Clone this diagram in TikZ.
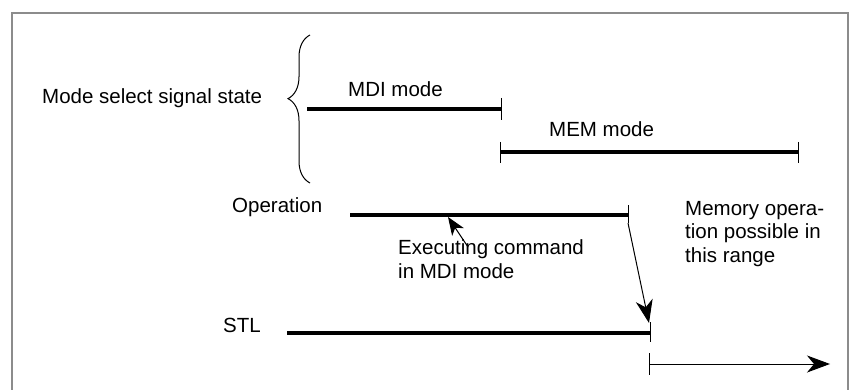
\documentclass[tikz,border=0pt]{standalone}
\usepackage{fontspec}
\setmainfont{Liberation Sans}
\usetikzlibrary{arrows.meta,decorations.pathreplacing}
\begin{document}
\begin{tikzpicture}[x=1pt,y=-1pt,
  lbl/.style={inner sep=0pt, anchor=base west, font=\fontsize{20.5}{23.5}\selectfont, align=left},
  sig/.style={line width=3.2pt},
  tickmark/.style={line width=1pt},
  conn/.style={line width=1pt, -{Stealth[length=23pt,width=17pt,inset=7pt]}},
  connsmall/.style={line width=1pt, -{Stealth[length=18pt,width=14pt,inset=5pt]}},
  frame/.style={draw=black!45, line width=1.5pt}]
\useasboundingbox (0,0) rectangle (850,390);
\draw[frame] (12,390) |- (848,13) -- (848,390);

% labels
\node[lbl] (mode) at (42,104) {Mode select signal state};
\node[lbl] (mdi) at (348,97) {MDI mode};
\node[lbl] (mem) at (549,137) {MEM mode};
\node[lbl] (op) at (232,212) {Operation};
\node[lbl] (stl) at (223,332) {STL};
\node[lbl] (exec) at (398,278) {Executing command\\in MDI mode};
\node[lbl] (memop) at (685,262) {Memory opera-\\tion possible in\\this range};

% brace
\draw[line width=1pt, decorate, decoration={brace, amplitude=22pt, aspect=0.57}] (310,183) -- (310,35);

% coordinates
\coordinate (mdiA) at (307,109);
\coordinate (mdiB) at (501,109);
\coordinate (memA) at (500,152);
\coordinate (memB) at (798,152);
\coordinate (opA) at (350,215);
\coordinate (opB) at (628,215);
\coordinate (opT) at (628,223);
\coordinate (stlA) at (287,333);
\coordinate (stlB) at (650,333);
\coordinate (stlT) at (649,323);
\coordinate (rngA) at (649,364);
\coordinate (rngB) at (830,364);
\coordinate (exFrom) at (468,247);
\coordinate (exTo) at (448,217);

% signal lines
\draw[sig] (mdiA) -- (mdiB);
\draw[tickmark] (501,98) -- (501,120);
\draw[sig] (memA) -- (memB);
\draw[tickmark] (500,142) -- (500,163);
\draw[tickmark] (798,142) -- (798,163);
\draw[sig] (opA) -- (opB);
\draw[tickmark] (628,205) -- (opT);
\draw[sig] (stlA) -- (stlB);
\draw[tickmark] (650,322) -- (650,342);
\draw[tickmark] (649,353) -- (649,375);

% connectors
\draw[conn] (opT) -- (stlT);
\draw[conn] (rngA) -- (rngB);
\draw[connsmall] (exFrom) -- (exTo);
\end{tikzpicture}
\end{document}
